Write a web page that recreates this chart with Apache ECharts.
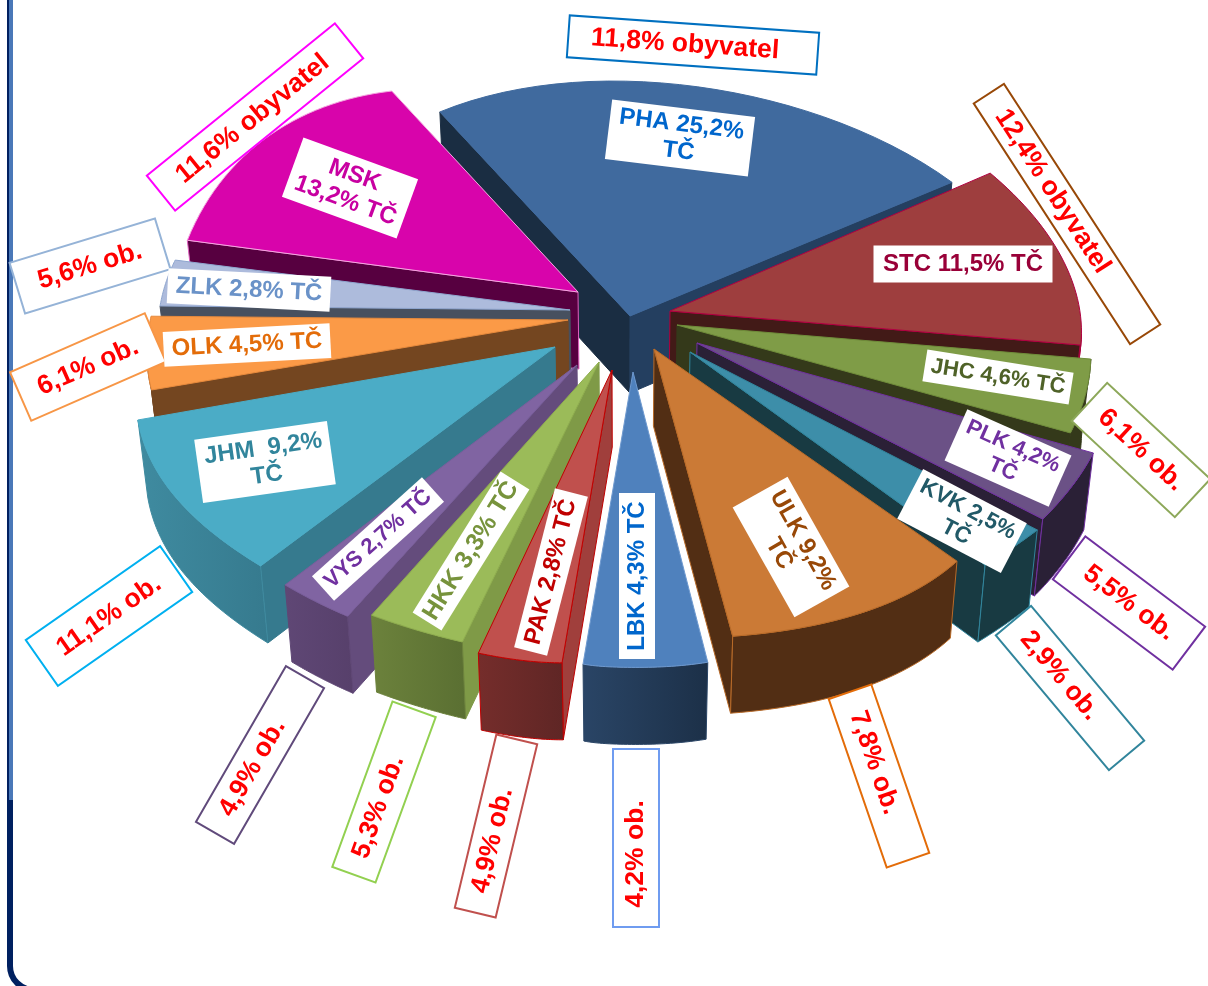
<!DOCTYPE html>
<html>
<head>
<meta charset="utf-8">
<style>
  html, body { margin: 0; padding: 0; background: #fff; }
  #chart { width: 1208px; height: 986px; }
</style>
</head>
<body>
<div id="chart"></div>
<script src="https://cdn.jsdelivr.net/npm/echarts@6/dist/echarts.min.js"></script>
<script>
// data
var regions = ['PHA', 'STC', 'JHC', 'PLK', 'KVK', 'ULK', 'LBK', 'PAK', 'HKK', 'VYS', 'JHM', 'OLK', 'ZLK', 'MSK'];
var tcShare = [25.2, 11.5, 4.6, 4.2, 2.5, 9.2, 4.3, 2.8, 3.3, 2.7, 9.2, 4.5, 2.8, 13.2];
var popShare = [11.8, 12.4, 6.1, 5.5, 2.9, 7.8, 4.2, 4.9, 5.3, 4.9, 11.1, 6.1, 5.6, 11.6];
var popUnit = ['obyvatel', 'obyvatel', 'ob.', 'ob.', 'ob.', 'ob.', 'ob.', 'ob.', 'ob.', 'ob.', 'ob.', 'ob.', 'ob.', 'obyvatel'];
// after which part of the text the white label breaks the line
var tcBreak = [1, 0, 0, 1, 1, 1, 0, 0, 0, 0, 1, 0, 0, 2];

// styles
var topColor = ['#406a9e', '#9e3e3e', '#7f9c47', '#6b5186', '#3d8ea9', '#cb7a36', '#4f81bd', '#c0504d', '#9bbb59', '#8064a2', '#4bacc6', '#fb9a47', '#adbbdc', '#d804ab'];
var startWall = ['#1a2d42', '#421a17', '#34391a', '#2a2036', '#183a42', '#522e14', '#233a58', '#a03f3c', '#7f9a47', '#644c7c', '#367a8e', '#744620', '#47505f', '#570040'];
var endWall = ['#243f60', '#421a17', '#34391a', '#2a2036', '#183a42', '#522e14', '#233a58', '#a03f3c', '#7f9a47', '#644c7c', '#367a8e', '#744620', '#47505f', '#570040'];
var arcWallLeft = ['#243f60', '#421a17', '#34391a', '#2a2036', '#183a42', '#522e14', '#2a4566', '#752d2b', '#6c823c', '#5f4775', '#3f8ba0', '#744620', '#47505f', '#570040'];
var arcWallRight = ['#243f60', '#421a17', '#34391a', '#2a2036', '#183a42', '#522e14', '#1c3048', '#5f2625', '#5a6f32', '#57406b', '#367a8e', '#744620', '#47505f', '#570040'];
var edgeColor = ['#406a9e', '#b00040', '#6f8c3a', '#7030a0', '#31859c', '#b86a28', '#6f9ad0', '#c00000', '#8fae4e', '#7a5e9c', '#4bacc6', '#e88a3c', '#8fa6cf', '#f4a8e0'];
var wallEdge = [null, '#b00040', null, '#7030a0', '#31859c', '#b86a28', null, '#c00000', null, null, null, null, null, '#e060c0'];
var textColor = ['#0066cc', '#990038', '#4f6228', '#7030a0', '#215967', '#984807', '#0066cc', '#c00000', '#77933c', '#7030a0', '#31859c', '#e36c09', '#6a92c8', '#c800a1'];
var boxColor = ['#0070c0', '#984807', '#8da85a', '#7030a0', '#31859c', '#e36c09', '#6f9cf0', '#c0504d', '#92d050', '#604a7b', '#00b0f0', '#f79646', '#95b3d7', '#ff00ff'];
var tcSize = [24, 24, 22, 22, 22.5, 24, 24, 24, 25, 22, 24, 24, 24, 24];

// pie layout: explosion offset, radius and tilt at both ends of each slice, arc correction, turn
var cx = 625, cy = 340, depth = 77, shrink = 0.98, startAngle = -124;
var explodeX = [5, 45, 52, 72, 65, 29, 8, -13, -26, -48, -70, -57, -55, -47];
var explodeY = [-24, -29, -15, 3, 12, 9, 32, 30, 22, 25, 7, -20, -30, -48];
var radius0 = [340, 383, 418, 436, 452, 460, 532, 388, 455, 468, 467, 432, 410, 395];
var radius1 = [385, 415, 433, 450, 448, 560, 388, 445, 464, 463, 438, 417, 402, 333];
var tilt0 = [0.724, 0.656, 0.577, 0.604, 0.615, 0.613, 0.551, 0.761, 0.645, 0.616, 0.604, 0.61, 0.7, 0.889];
var tilt1 = [0.633, 0.581, 0.597, 0.611, 0.632, 0.518, 0.759, 0.667, 0.626, 0.612, 0.545, 0.65, 0.658, 0.728];
var bulge = [-18, 2, 0, 0, 0, 0, -9, 0, 0, 0, 8, 0, 0, 0];
var turn = [0, 0, 0, 0, 0, 0, 0, 0, 0, 0, 0, 2.4, 2.4, 0];
// back slices first
var drawOrder = [0, 1, 2, 3, 4, 5, 13, 12, 11, 10, 9, 8, 7, 6];

// label boxes: centre x, y, width, height, rotation (counterclockwise degrees)
var tcBox = [
  [680, 138, 144, 60, -7], [963, 264, 179, 37, 0], [998, 377, 148, 32, -9], [1008, 458, 114, 56, -24],
  [962, 521, 117, 56, -27.6], [791, 547, 126, 63, -60.6], [637, 576, 166, 36, 90], [551, 572, 164, 34, 75.6],
  [471, 551, 166, 34, 58], [378, 539, 148, 33, 42], [265, 462, 134, 64, 8], [247, 345, 167, 35, 3],
  [249, 290, 163, 35, -3], [350, 188, 122, 63, -20]
];
var popBox = [
  [693, 45, 250, 42, -4], [1067, 214, 287, 36, -57], [1141, 450, 141, 52, -43], [1129, 603, 150, 54, -37],
  [1070, 688, 176, 46, -50], [879, 776, 178, 45, -71], [636, 838, 178, 46, 90], [496, 826, 178, 42, 76.5],
  [384, 792, 176, 46, 70], [260, 755, 180, 44, 60], [109, 616, 164, 56, 35], [88, 367, 147, 53, 23.6],
  [90, 266, 152, 53, 17], [255, 117, 242, 45, 39]
];
// how far the red text sits from the middle of its box, along the box
var popTextShift = [-8, -27, 0, 0, -16, -14, -16, -15, -16, -15, 0, 0, 0, -3];

var total = tcShare.reduce(function (a, b) { return a + b; }, 0);

function czNum(v) {
  return v.toFixed(1).replace('.', ',');
}

function tcText(i) {
  var name = regions[i] === 'JHM' ? 'JHM ' : regions[i];
  var pct = czNum(tcShare[i]) + '%';
  if (tcBreak[i] === 1) return name + ' ' + pct + '\nTČ';
  if (tcBreak[i] === 2) return name + '\n' + pct + ' TČ';
  return name + ' ' + pct + ' TČ';
}

function sliceAngles(i) {
  var before = tcShare.slice(0, i).reduce(function (a, b) { return a + b; }, 0);
  return [
    startAngle + before / total * 360 + turn[i],
    startAngle + (before + tcShare[i]) / total * 360 + turn[i]
  ];
}

function bottom(p) {
  return [cx + (p[0] - cx) * shrink, p[1] + depth];
}

function wall(points, color, stroke, z2, rightColor) {
  var poly = points.concat(points.slice().reverse().map(bottom));
  var fill = color;
  if (rightColor && rightColor !== color) {
    fill = {
      type: 'linear', x: 0, y: 0, x2: 1, y2: 0,
      colorStops: [
        { offset: 0, color: color },
        { offset: 1, color: rightColor }
      ]
    };
  }
  return {
    type: 'polygon',
    z2: z2,
    shape: { points: poly },
    style: { fill: fill, stroke: stroke || color, lineWidth: 1 }
  };
}

function renderSlice(params, api) {
  var i = api.value(0);
  var rank = drawOrder.indexOf(i);
  var ang = sliceAngles(i);
  var apex = [cx + explodeX[i], cy + explodeY[i]];
  var arc = [];
  var steps = 30;
  for (var s = 0; s <= steps; s++) {
    var t = s / steps;
    var a = (ang[0] + (ang[1] - ang[0]) * t) * Math.PI / 180;
    var r = radius0[i] + (radius1[i] - radius0[i]) * t + bulge[i] * Math.sin(Math.PI * t);
    var k = tilt0[i] + (tilt1[i] - tilt0[i]) * t;
    arc.push([apex[0] + r * Math.cos(a), apex[1] + k * r * Math.sin(a)]);
  }
  var first = arc[0], last = arc[arc.length - 1];
  var children = [];
  // a wall shows only if its edge runs right to left when going round the slice
  if (first[0] < apex[0]) children.push(wall([apex, first], startWall[i], wallEdge[i], rank * 10));
  if (apex[0] < last[0]) children.push(wall([last, apex], endWall[i], wallEdge[i], rank * 10 + 1));
  var run = [];
  for (var j = 0; j < arc.length; j++) {
    if (j + 1 < arc.length && arc[j + 1][0] < arc[j][0]) {
      run.push(arc[j]);
    } else if (run.length) {
      run.push(arc[j]);
      children.push(wall(run, arcWallLeft[i], wallEdge[i], rank * 10 + 2, arcWallRight[i]));
      run = [];
    }
  }
  children.push({
    type: 'polygon',
    z2: rank * 10 + 3,
    shape: { points: [apex].concat(arc) },
    style: { fill: topColor[i], stroke: edgeColor[i], lineWidth: 1 }
  });
  return { type: 'group', children: children };
}

function labelBox(b, text, color, border, size, z2, shift) {
  return {
    type: 'group',
    x: b[0],
    y: b[1],
    rotation: b[4] * Math.PI / 180,
    children: [
      {
        type: 'rect',
        z2: z2,
        shape: { x: -b[2] / 2, y: -b[3] / 2, width: b[2], height: b[3] },
        style: { fill: '#fff', stroke: border, lineWidth: border ? 2 : 0 }
      },
      {
        type: 'text',
        z2: z2 + 1,
        style: {
          x: shift,
          y: 0,
          text: text,
          fill: color,
          align: 'center',
          verticalAlign: 'middle',
          font: 'bold ' + size + 'px "Liberation Sans", Arial, sans-serif',
          lineHeight: size + 3
        }
      }
    ]
  };
}

function renderLabels(params, api) {
  var i = api.value(0);
  var rank = drawOrder.indexOf(i);
  return {
    type: 'group',
    children: [
      labelBox(popBox[i], czNum(popShare[i]) + '% ' + popUnit[i], '#ff0000', boxColor[i], 26.5, 300 + rank * 2, popTextShift[i]),
      labelBox(tcBox[i], tcText(i), textColor[i], null, tcSize[i], 400 + rank * 2, 0)
    ]
  };
}

var chart = echarts.init(document.getElementById('chart'), null, { renderer: 'canvas' });

var sliceData = regions.map(function (name, i) {
  return { name: name, value: [i, tcShare[i], popShare[i]] };
});

chart.setOption({
  animation: false,
  backgroundColor: '#fff',
  graphic: [
    {
      type: 'rect',
      silent: true,
      z: 0,
      shape: { x: 10, y: -40, width: 1300, height: 1030, r: 24 },
      style: { fill: 'none', stroke: '#002060', lineWidth: 6 }
    },
    {
      type: 'rect',
      silent: true,
      z: 1,
      shape: { x: 9, y: 0, width: 4, height: 800 },
      style: { fill: '#4a78b8' }
    }
  ],
  series: [
    {
      type: 'custom',
      coordinateSystem: 'none',
      name: 'TČ',
      z: 2,
      silent: true,
      renderItem: renderSlice,
      data: sliceData
    },
    {
      type: 'custom',
      coordinateSystem: 'none',
      name: 'popisky',
      z: 3,
      silent: true,
      renderItem: renderLabels,
      data: sliceData
    }
  ]
});
</script>
</body>
</html>
